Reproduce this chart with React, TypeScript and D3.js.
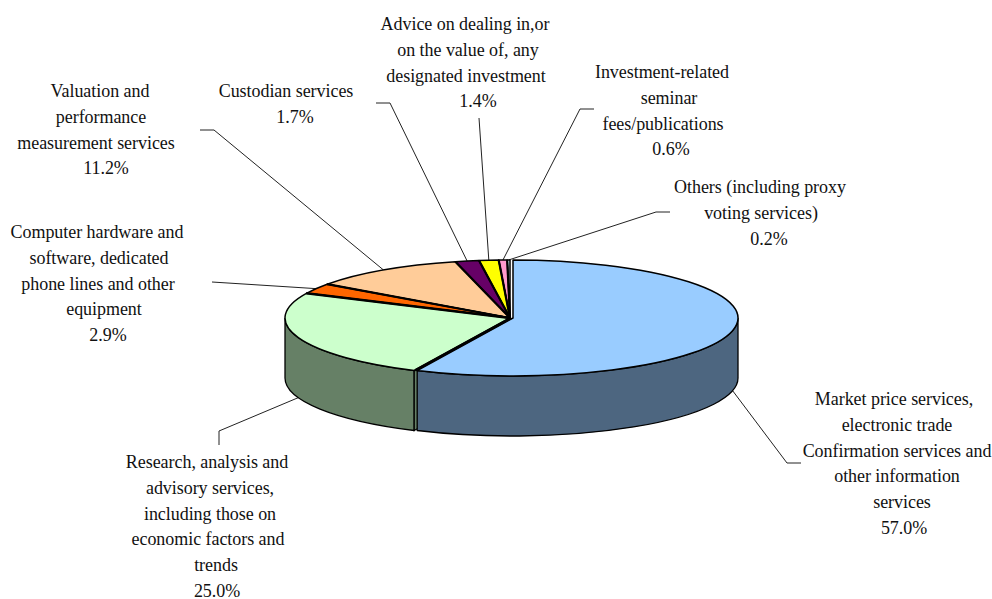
import React from "react";
import { pie, arc } from "d3";

const WIDTH = 992;
const HEIGHT = 599;

// Clockwise from twelve o'clock
const categories = [
  "Market price services",
  "Research, analysis and advisory services",
  "Computer hardware and software",
  "Valuation and performance measurement services",
  "Custodian services",
  "Advice on dealing in",
  "Investment-related seminar",
  "Others",
];
const values = [57.0, 25.0, 2.9, 11.2, 1.7, 1.4, 0.6, 0.2];
const colors = ["#99ccff", "#ccffcc", "#ff6600", "#ffcc99", "#660066", "#ffff00", "#ff99cc", "#ccffff"];
const sideColors = ["#4d6680", "#668066"];

const labelLines = [
  ["Market price services,", "electronic trade", "Confirmation services and", "other information", "services", "57.0%"],
  ["Research, analysis and", "advisory services,", "including those on", "economic factors and", "trends", "25.0%"],
  ["Computer hardware and", "software, dedicated", "phone lines and other", "equipment", "2.9%"],
  ["Valuation and", "performance", "measurement services", "11.2%"],
  ["Custodian services", "1.7%"],
  ["Advice on dealing in,or", "on the value of, any", "designated investment", "1.4%"],
  ["Investment-related", "seminar", "fees/publications", "0.6%"],
  ["Others (including proxy", "voting services)", "0.2%"],
];

// Layout: line centres, first baseline, and the leader bend points
const lineCentres = [
  [894, 897, 897, 897, 902, 904],
  [207, 210, 210, 208, 216, 217],
  [97, 99, 98, 104, 108],
  [100, 101, 96, 106],
  [286, 295],
  [465, 468, 466, 478],
  [662, 669, 663, 671],
  [760, 761, 769],
];
const firstBaseline = [405, 468, 238, 97, 97, 30, 78, 193];
const leaderBends: [number, number][][] = [
  [[787, 463], [801, 463]],
  [[219, 431], [219, 445]],
  [[212, 282]],
  [[214, 130], [200, 130]],
  [[390, 103], [376, 103]],
  [[479, 118]],
  [[580, 109], [594, 109]],
  [[656, 212], [670, 212]],
];

const LINE_HEIGHT = 25.8;
const cx = 510;
const cy = 318;
const rx = 225;
const ry = 58;
const depth = 60;
const explode = 3; // the first slice is pulled out to the right

const slices = pie<number>().sort(null).value((d) => d)(values);
const topArc = arc<any>().innerRadius(0).outerRadius(rx);

const ox = (i: number) => cx + (i === 0 ? explode : 0);
const px = (i: number, a: number) => ox(i) + rx * Math.sin(a);
const py = (a: number) => cy - ry * Math.cos(a);

const wall = (i: number, a0: number, a1: number) =>
  `M${px(i, a0)},${py(a0)} A${rx},${ry} 0 0 1 ${px(i, a1)},${py(a1)} ` +
  `L${px(i, a1)},${py(a1) + depth} A${rx},${ry} 0 0 0 ${px(i, a0)},${py(a0) + depth} Z`;

export default function App() {
  const blue = slices[0];
  const green = slices[1];
  const cutA = green.startAngle;

  return (
    <svg
      width={WIDTH}
      height={HEIGHT}
      viewBox={`0 0 ${WIDTH} ${HEIGHT}`}
      style={{ position: "absolute", left: 0, top: 0, background: "#fff" }}
      fontFamily="'Liberation Serif', serif"
    >
      {/* leaders go under the pie so they stop at its edge */}
      {slices.map((s, i) => {
        const mid = (s.startAngle + s.endAngle) / 2;
        const onSide = mid > Math.PI / 2 && mid < (3 * Math.PI) / 2;
        const start: [number, number] = [px(i, mid), py(mid) + (onSide ? depth : 0)];
        const pts = [start, ...leaderBends[i]];
        return (
          <polyline
            key={categories[i]}
            points={pts.map((p) => p.join(",")).join(" ")}
            fill="none"
            stroke="#222"
            strokeWidth={1}
          />
        );
      })}

      {/* green wall and its cut face, then the pulled out blue wall on top */}
      <path d={wall(1, cutA, (3 * Math.PI) / 2)} fill={sideColors[1]} stroke="#000" strokeWidth={1.3} />
      <path
        d={`M${cx},${cy} L${px(1, cutA)},${py(cutA)} L${px(1, cutA)},${py(cutA) + depth} L${cx},${cy + depth} Z`}
        fill={sideColors[1]}
        stroke="#000"
        strokeWidth={1.3}
      />
      <path d={wall(0, Math.PI / 2, blue.endAngle)} fill={sideColors[0]} stroke="#000" strokeWidth={1.3} />

      {slices
        .map((s, i) => ({ s, i }))
        .reverse()
        .map(({ s, i }) => (
          <g key={i} transform={`translate(${ox(i)},${cy}) scale(1,${ry / rx})`}>
            <path
              d={topArc(s) as string}
              fill={colors[i]}
              stroke="#000"
              strokeWidth={1.5}
              strokeLinejoin="round"
              vectorEffect="non-scaling-stroke"
            />
          </g>
        ))}

      {/* the dividers between the top faces read heavier than the rim */}
      {slices.slice(2).map((s, k) => (
        <line
          key={k}
          x1={cx}
          y1={cy}
          x2={px(k + 2, s.startAngle)}
          y2={py(s.startAngle)}
          stroke="#000"
          strokeWidth={k === 0 ? 2.6 : 2.2}
        />
      ))}
      <line x1={cx + 1} y1={cy} x2={px(1, cutA) + 1} y2={py(cutA)} stroke="#000" strokeWidth={2.6} />

      {labelLines.map((lines, i) => (
        <text key={i} fontSize={18} letterSpacing={-0.05} fill="#111" textAnchor="middle">
          {lines.map((line, j) => (
            <tspan key={j} x={lineCentres[i][j]} y={firstBaseline[i] + j * LINE_HEIGHT}>
              {line}
            </tspan>
          ))}
        </text>
      ))}
    </svg>
  );
}
